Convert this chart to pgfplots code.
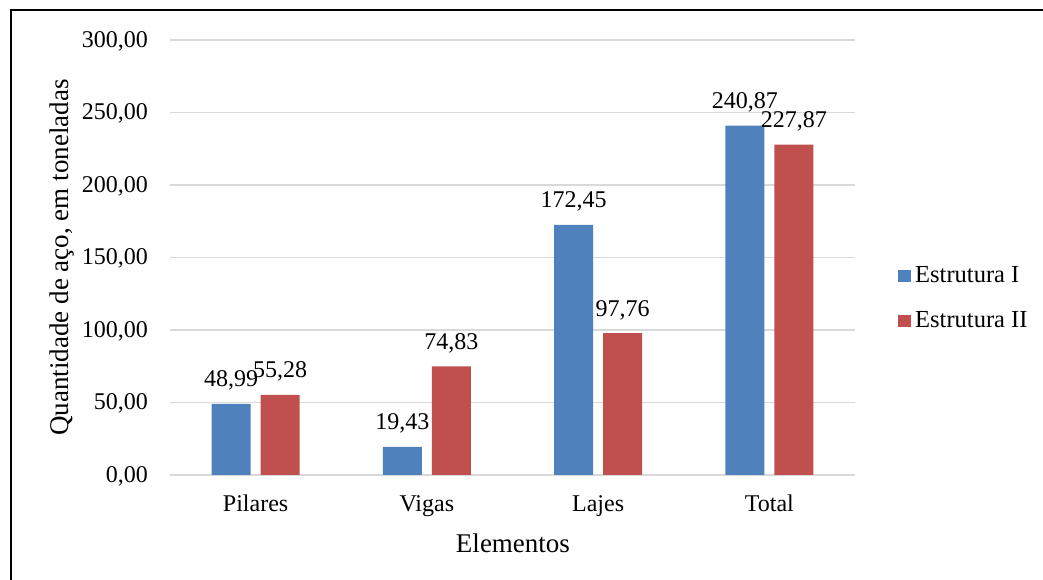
\documentclass[border=0pt]{standalone}
\usepackage{fontspec}
\setmainfont{Liberation Serif}
\usepackage{pgfplots}
\pgfplotsset{compat=1.18}
\definecolor{serA}{HTML}{4F81BD}
\definecolor{serB}{HTML}{C0504D}
\definecolor{gridc}{HTML}{D9D9D9}
\begin{document}
\fontsize{24}{28}\selectfont
\begin{tikzpicture}[x=1pt,y=1pt]
\path[use as bounding box] (0,0) rectangle (1043,580);
\draw[line width=2pt] (10.5,0) -- (10.5,569.5) -- (1043,569.5);
\begin{axis}[
 at={(170pt,105pt)}, anchor=south west,
 scale only axis, width=685pt, height=435pt,
 xmin=-0.5, xmax=3.5, ymin=0, ymax=300,
 ytick={0,50,...,300},
 xtick={0,1,2,3}, xticklabels={Pilares,Vigas,Lajes,Total},
 ymajorgrids, grid style={gridc, line width=1.2pt},
 axis line style={draw=none}, major tick length=0pt,
 /pgf/number format/fixed, /pgf/number format/fixed zerofill,
 /pgf/number format/precision=2, /pgf/number format/use comma,
 /pgf/number format/assume math mode=true,
 ybar=10pt, bar width=39pt,
 clip=false,
 nodes near coords,
 nodes near coords style={anchor=base, yshift=17pt, inner sep=0pt, text=black},
 xticklabel style={anchor=base, yshift=-37pt, inner sep=0pt},
 yticklabel style={anchor=base east, xshift=-22pt, yshift=-7.5pt, inner sep=0pt},
 xlabel={Elementos}, ylabel={Quantidade de aço, em toneladas},
 xlabel style={at={(axis description cs:0.5007,-0.156)}, anchor=center, font=\fontsize{27}{30}\selectfont},
 ylabel style={at={(axis description cs:-0.158,0.5)}, anchor=center, font=\fontsize{27}{30}\selectfont},
 legend style={at={(axis description cs:1.0628,0.405)}, anchor=west, draw=none, fill=none,
   inner sep=0pt, row sep=25pt, nodes={inner sep=0pt},
   font=\fontsize{24.5}{28}\selectfont},
 legend cell align=left,
 legend image code/.code={\fill[#1] (0pt,-6pt) rectangle (12.5pt,6.5pt); \path (17pt,0pt);},
]
\addplot[fill=serA, draw=none] coordinates {(0,48.99) (1,19.43) (2,172.45) (3,240.87)};
\addplot[fill=serB, draw=none] coordinates {(0,55.28) (1,74.83) (2,97.76) (3,227.87)};
\legend{Estrutura I, Estrutura II}
\end{axis}
\end{tikzpicture}
\end{document}
